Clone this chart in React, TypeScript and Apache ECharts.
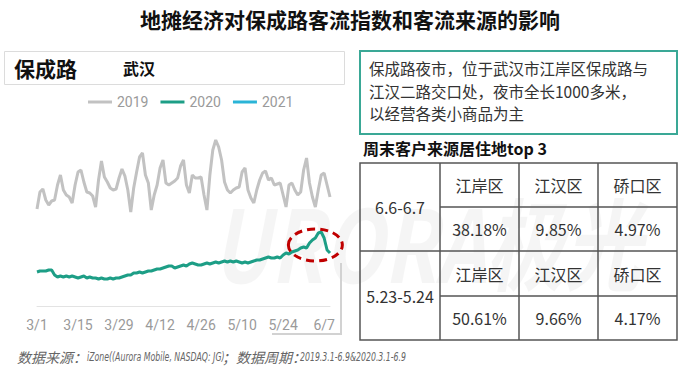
import React, { useEffect, useRef } from "react";
import * as echarts from "echarts";

// ---- data ----
const monthDays: [number, number][] = [[3, 31], [4, 30], [5, 31], [6, 9]];
const dates: string[] = [];
monthDays.forEach(([m, n]) => {
  for (let d = 1; d <= n; d++) dates.push(`${m}/${d}`);
});

const seriesNames = ["2019", "2020", "2021"];

const values2019 = [
  97, 114, 117, 106, 101, 105, 106, 121, 131, 116,
  111, 109, 103, 121, 134, 136, 124, 114, 113, 110,
  99, 126, 145, 129, 124, 118, 116, 117, 128, 137,
  130, 116, 94, 118, 134, 149, 153, 131, 123, 96,
  111, 121, 138, 146, 123, 121, 123, 125, 128, 140,
  146, 121, 113, 131, 128, 128, 129, 111, 96, 131,
  156, 166, 159, 146, 124, 116, 113, 116, 118, 119,
  134, 138, 116, 108, 103, 116, 126, 133, 135, 126,
  128, 121, 122, 123, 111, 99, 121, 123, 116, 111,
  114, 136, 148, 123, 109, 99, 116, 131, 133, 121,
  109,
];

const values2020 = [
  34, 35, 35, 35, 36, 36, 31, 29, 30, 29,
  30, 29, 30, 29, 28, 29, 30, 28, 29, 28,
  28, 27, 28, 27, 27, 28, 27, 28, 28, 29,
  30, 31, 31, 33, 33, 34, 33, 34, 35, 35,
  36, 37, 37, 38, 39, 40, 40, 38, 39, 40,
  41, 40, 42, 43, 42, 41, 41, 42, 43, 42,
  43, 44, 43, 44, 45, 44, 45, 44, 45, 44,
  43, 44, 43, 44, 45, 46, 46, 47, 48, 49,
  48, 48, 49, 48, 51, 53, 52, 54, 55, 56,
  58, 59, 58, 63, 66, 68, 73, 74, 68, 56,
  53,
];

const values2021: number[] = [];

const chartTitle = "地摊经济对保成路客流指数和客流来源的影响";
const placeName = "保成路";
const cityName = "武汉";
const introLines = [
  "保成路夜市，位于武汉市江岸区保成路与",
  "江汉二路交口处，夜市全长1000多米，",
  "以经营各类小商品为主",
];
const tableTitle = "周末客户来源居住地top 3";
const periods = ["6.6-6.7", "5.23-5.24"];
const districts = [
  ["江岸区", "江汉区", "硚口区"],
  ["江岸区", "江汉区", "硚口区"],
];
const shares = [
  [38.18, 9.85, 4.97],
  [50.61, 9.66, 4.17],
];
const sourceLabel = "数据来源：";
const sourceText = "iZone((Aurora Mobile, NASDAQ: JG)";
const periodLabel = "；数据周期：";
const periodText = "2019.3.1-6.9&2020.3.1-6.9";

const CN = "'Noto Sans CJK SC', 'Noto Sans', sans-serif";
const colors = ["#c2c2c2", "#1d9e86", "#2ab4d7"];

export default function App() {
  const ref = useRef<HTMLDivElement>(null);
  useEffect(() => {
    if (!ref.current) return;
    const chart = echarts.init(ref.current, undefined, { renderer: "svg" });
    const values = [values2019, values2020, values2021];
    chart.setOption({
      animation: false,
      backgroundColor: "#ffffff",
      legend: {
        data: seriesNames,
        left: 83,
        top: 90,
        icon: "rect",
        itemWidth: 24,
        itemHeight: 3,
        itemGap: 12,
        textStyle: { color: "#9a9a9a", fontSize: 14, fontFamily: "Roboto, sans-serif" },
      },
      grid: { left: 37, right: 370, top: 120, bottom: 78 },
      xAxis: {
        type: "category",
        data: dates,
        boundaryGap: false,
        axisLine: { lineStyle: { color: "#e3e3e3", width: 1 } },
        axisTick: { show: false },
        axisLabel: {
          interval: 13,
          color: "#9a9a9a",
          fontSize: 14,
          margin: 12,
          fontFamily: "Roboto, sans-serif",
        },
      },
      yAxis: { type: "value", min: 0, max: 186, show: false },
      series: seriesNames.map((n, i) => ({
        name: n,
        type: "line",
        data: values[i],
        symbol: "none",
        z: 2 + i,
        color: colors[i],
        lineStyle: { width: 3, color: colors[i] },
      })),
    });

    const [cx, cy] = chart.convertToPixel({ gridIndex: 0 }, [95, 61]) as number[];

    const graphics: any[] = [];
    // watermark
    graphics.push({
      type: "text",
      x: 212,
      y: 240,
      scaleX: 0.78,
      z: -10,
      silent: true,
      style: {
        text: "URORA极光",
        fontSize: 100,
        fontWeight: "bold",
        fontStyle: "italic",
        fontFamily: "'Noto Sans CJK SC', sans-serif",
        fill: "rgba(0,0,0,0.04)",
        textVerticalAlign: "middle",
      },
    });
    // title
    graphics.push({
      type: "text",
      style: {
        text: chartTitle,
        x: 350,
        y: 19,
        textAlign: "center",
        textVerticalAlign: "middle",
        fontSize: 21,
        fontWeight: "bold",
        fontFamily: CN,
        fill: "#111",
      },
    });
    // place box
    graphics.push({
      type: "rect",
      shape: { x: 4.5, y: 51.5, width: 340, height: 33 },
      style: { fill: "none", stroke: "#dcdcdc", lineWidth: 1 },
    });
    graphics.push({
      type: "text",
      style: {
        text: placeName, x: 14, y: 68, textVerticalAlign: "middle",
        fontSize: 21, fontWeight: "bold", fontFamily: CN, fill: "#111",
      },
    });
    graphics.push({
      type: "text",
      style: {
        text: cityName, x: 123, y: 68, textVerticalAlign: "middle",
        fontSize: 16, fontWeight: "bold", fontFamily: CN, fill: "#111",
      },
    });
    // card shadow
    graphics.push({
      type: "polyline",
      shape: { points: [[341, 263], [341, 334], [272, 334]] },
      style: { fill: "none", stroke: "#d2d2d2", lineWidth: 2 },
    });
    // highlight ellipse
    graphics.push({
      type: "ellipse",
      shape: { cx: cx, cy: cy, rx: 27, ry: 16 },
      z: 10,
      style: { fill: "none", stroke: "#c00000", lineWidth: 3, lineDash: [8, 5] },
    });
    // intro box
    graphics.push({
      type: "rect",
      shape: { x: 360, y: 51, width: 317, height: 83 },
      style: { fill: "none", stroke: "#3aa896", lineWidth: 2 },
    });
    introLines.forEach((t, i) => {
      graphics.push({
        type: "text",
        style: {
          text: t, x: 369, y: 68 + i * 22.5, textVerticalAlign: "middle",
          fontSize: 15.5, fontFamily: CN, fill: "#333",
        },
      });
    });
    graphics.push({
      type: "text",
      style: {
        text: tableTitle, x: 363, y: 148, textVerticalAlign: "middle",
        fontSize: 16, fontWeight: "bold", fontFamily: CN, fill: "#111",
      },
    });
    // table
    const tx = [360, 440, 519, 598, 677];
    const ty = [163, 207, 251, 296, 340];
    const stroke = { stroke: "#555", lineWidth: 1.5 };
    graphics.push({
      type: "rect",
      shape: { x: tx[0], y: ty[0], width: tx[4] - tx[0], height: ty[4] - ty[0] },
      style: { fill: "none", ...stroke },
    });
    [1, 2, 3].forEach((c) =>
      graphics.push({ type: "line", shape: { x1: tx[c], y1: ty[0], x2: tx[c], y2: ty[4] }, style: stroke })
    );
    graphics.push({ type: "line", shape: { x1: tx[0], y1: ty[2], x2: tx[4], y2: ty[2] }, style: stroke });
    [1, 3].forEach((r) =>
      graphics.push({ type: "line", shape: { x1: tx[1], y1: ty[r], x2: tx[4], y2: ty[r] }, style: stroke })
    );
    const cellText = (t: string, x: number, y: number) => ({
      type: "text",
      style: {
        text: t, x, y, textAlign: "center", textVerticalAlign: "middle",
        fontSize: 16, fontFamily: CN, fill: "#333",
      },
    });
    periods.forEach((p, pi) => {
      const r0 = pi * 2;
      graphics.push(cellText(p, (tx[0] + tx[1]) / 2, (ty[r0] + ty[r0 + 2]) / 2));
      districts[pi].forEach((d, c) => {
        const x = (tx[c + 1] + tx[c + 2]) / 2;
        graphics.push(cellText(d, x, (ty[r0] + ty[r0 + 1]) / 2));
        graphics.push(cellText(shares[pi][c].toFixed(2) + "%", x, (ty[r0 + 1] + ty[r0 + 2]) / 2));
      });
    });
    // footer
    const footCn = (t: string, x: number) => ({
      type: "text",
      x, y: 357,
      style: {
        text: t, x: 0, y: 0, textVerticalAlign: "middle",
        fontSize: 14, fontStyle: "italic", fontFamily: CN, fill: "#666",
      },
    });
    const footEn = (t: string, x: number) => ({
      type: "text",
      x, y: 357, scaleX: 0.6,
      style: {
        text: t, x: 0, y: 0, textVerticalAlign: "middle",
        fontSize: 13, fontStyle: "italic",
        fontFamily: "'DejaVu Sans', sans-serif", fill: "#666",
      },
    });
    graphics.push(footCn(sourceLabel, 17));
    graphics.push(footEn(sourceText, 87));
    graphics.push(footCn(periodLabel, 222));
    graphics.push(footEn(periodText, 300));
    chart.setOption({ graphic: graphics });
    return () => chart.dispose();
  }, []);
  return (
    <div
      ref={ref}
      style={{ position: "absolute", left: 0, top: 0, width: 700, height: 384 }}
    />
  );
}
